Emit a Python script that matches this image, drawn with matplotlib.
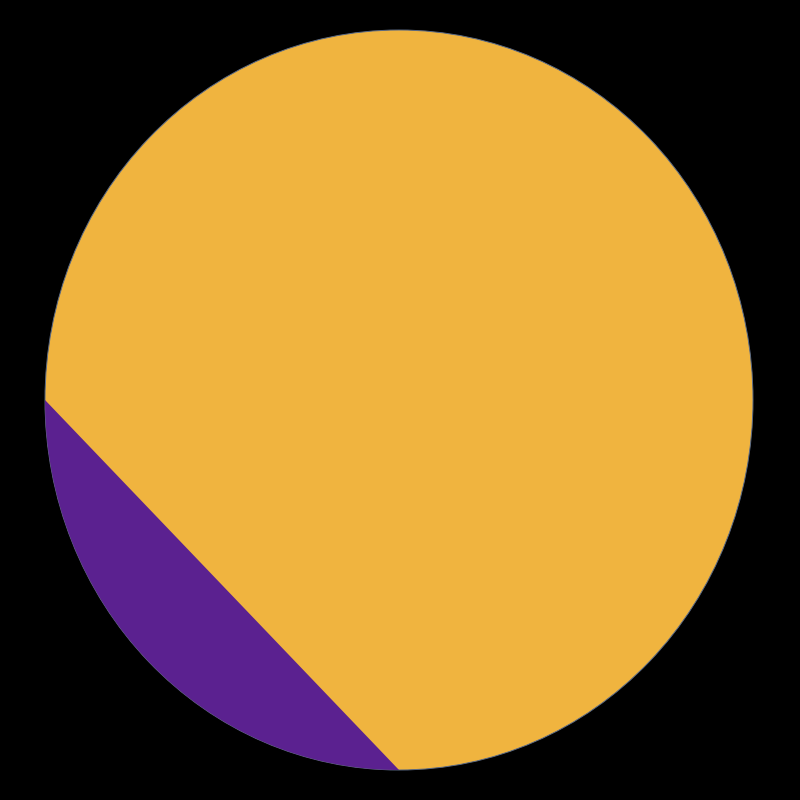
import numpy as np
import matplotlib
matplotlib.use("Agg")
import matplotlib.pyplot as plt
from matplotlib.patches import Ellipse, Polygon

# Data
categories = ["Main", "Segment"]
colors = ["#F0B43F", "#5B2190"]
# chord endpoints of the purple segment, as angles on the circle (degrees, screen: 90=bottom, 180=left)
segment_angles = [90, 180]

cx, cy, rx, ry = 399, 400, 354, 370

fig = plt.figure(figsize=(8, 8), dpi=100, facecolor="black")
ax = fig.add_axes([0, 0, 1, 1])
ax.set_facecolor("black")
ax.set_xlim(0, 800)
ax.set_ylim(800, 0)
ax.axis("off")

ax.add_patch(Ellipse((cx, cy), 2 * rx, 2 * ry, facecolor=colors[0],
                     edgecolor="#5a6a86", linewidth=0.7, zorder=1))

t = np.radians(np.linspace(segment_angles[0], segment_angles[1], 200))
pts = np.column_stack([cx + rx * np.cos(t), cy + ry * np.sin(t)])
ax.add_patch(Polygon(pts, closed=True, facecolor=colors[1], edgecolor="none", zorder=2))

fig.savefig("out.png", dpi=100, facecolor="black")
